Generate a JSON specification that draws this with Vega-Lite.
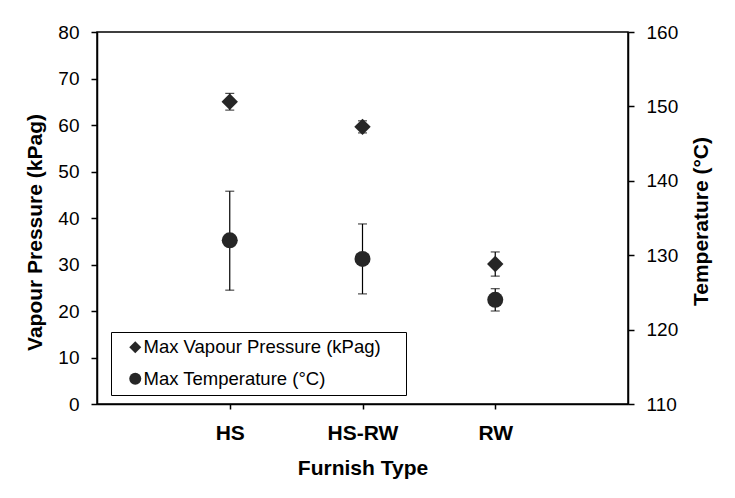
{
  "$schema": "https://vega.github.io/schema/vega-lite/v6.json",
  "autosize": "none",
  "width": 531,
  "height": 372,
  "padding": {"left": 97, "top": 32, "right": 107, "bottom": 94},
  "background": "white",
  "config": {
    "font": "Liberation Sans",
    "view": {"stroke": "black", "strokeWidth": 1.5},
    "axis": {
      "domainColor": "black", "domainWidth": 1.5,
      "tickColor": "black", "tickWidth": 1.5, "tickSize": 6,
      "labelFont": "Liberation Sans", "labelFontSize": 19, "labelColor": "black",
      "titleFont": "Liberation Sans", "titleFontSize": 21, "titleFontWeight": "bold", "titleColor": "black",
      "grid": false
    }
  },
  "data": {
    "values": [
      {"type": "HS", "vp": 65.0, "vp_lo": 63.2, "vp_hi": 66.8, "t": 132.0, "t_lo": 125.3, "t_hi": 138.6},
      {"type": "HS-RW", "vp": 59.6, "vp_lo": 58.3, "vp_hi": 60.9, "t": 129.5, "t_lo": 124.8, "t_hi": 134.2},
      {"type": "RW", "vp": 30.1, "vp_lo": 27.5, "vp_hi": 32.7, "t": 124.0, "t_lo": 122.5, "t_hi": 125.5}
    ]
  },
  "encoding": {
    "x": {
      "field": "type", "type": "ordinal",
      "scale": {"type": "point", "domain": ["_a", "HS", "HS-RW", "RW", "_b"], "padding": 0},
      "axis": {"values": ["HS", "HS-RW", "RW"], "title": "Furnish Type", "labelAngle": 0,
               "labelFontWeight": "bold", "labelFontSize": 21, "labelPadding": 13, "tickSize": 5, "titlePadding": 14}
    }
  },
  "layer": [
    {
      "encoding": {
        "y": {"field": "vp", "type": "quantitative", "title": "Vapour Pressure (kPag)",
              "scale": {"domain": [0, 80]},
              "axis": {"orient": "left", "values": [0, 10, 20, 30, 40, 50, 60, 70, 80], "labelPadding": 12, "titlePadding": 12, "titleY": 200}}
      },
      "layer": [
        {"mark": {"type": "rule", "color": "black", "strokeWidth": 1.2},
         "encoding": {"y": {"field": "vp_lo", "type": "quantitative", "title": "Vapour Pressure (kPag)"}, "y2": {"field": "vp_hi"}}},
        {"mark": {"type": "tick", "color": "black", "size": 9, "thickness": 1.2},
         "encoding": {"y": {"field": "vp_lo", "type": "quantitative", "title": "Vapour Pressure (kPag)"}}},
        {"mark": {"type": "tick", "color": "black", "size": 9, "thickness": 1.2},
         "encoding": {"y": {"field": "vp_hi", "type": "quantitative", "title": "Vapour Pressure (kPag)"}}},
        {"mark": {"type": "point", "filled": true, "size": 270, "color": "#262626", "opacity": 1},
         "encoding": {
           "shape": {"datum": "Max Vapour Pressure (kPag)", "type": "nominal",
                     "scale": {"domain": ["Max Vapour Pressure (kPag)", "Max Temperature (°C)"], "range": ["diamond", "circle"]},
                     "legend": {"title": " ", "titleOrient": "right", "titlePadding": 19, "titleFontSize": 4,
                                "orient": "none", "legendX": 14, "legendY": 300,
                                "strokeColor": "black", "padding": 6, "rowPadding": 12.5,
                                "symbolSize": 144, "symbolOffset": 9, "labelOffset": -1, "labelLimit": 400,
                                "symbolFillColor": "#262626", "symbolStrokeWidth": 0,
                                "labelFont": "Liberation Sans", "labelFontSize": 18.5, "labelColor": "black",
                                "encode": {"symbols": {"update": {"size": {"signal": "datum.value === 'Max Temperature (°C)' ? 144 : 80"}}}}}}
         }}
      ]
    },
    {
      "encoding": {
        "y": {"field": "t", "type": "quantitative", "title": "Temperature (°C)",
              "scale": {"domain": [110, 160]},
              "axis": {"orient": "right", "values": [110, 120, 130, 140, 150, 160], "labelPadding": 12, "titlePadding": 34, "titleAngle": 270, "titleY": 189}}
      },
      "layer": [
        {"mark": {"type": "rule", "color": "black", "strokeWidth": 1.2},
         "encoding": {"y": {"field": "t_lo", "type": "quantitative", "title": "Temperature (°C)"}, "y2": {"field": "t_hi"}}},
        {"mark": {"type": "tick", "color": "black", "size": 9, "thickness": 1.2},
         "encoding": {"y": {"field": "t_lo", "type": "quantitative", "title": "Temperature (°C)"}}},
        {"mark": {"type": "tick", "color": "black", "size": 9, "thickness": 1.2},
         "encoding": {"y": {"field": "t_hi", "type": "quantitative", "title": "Temperature (°C)"}}},
        {"mark": {"type": "point", "filled": true, "size": 256, "color": "#262626", "opacity": 1},
         "encoding": {"shape": {"datum": "Max Temperature (°C)", "type": "nominal"}}}
      ]
    }
  ],
  "resolve": {"scale": {"y": "independent"}}
}
